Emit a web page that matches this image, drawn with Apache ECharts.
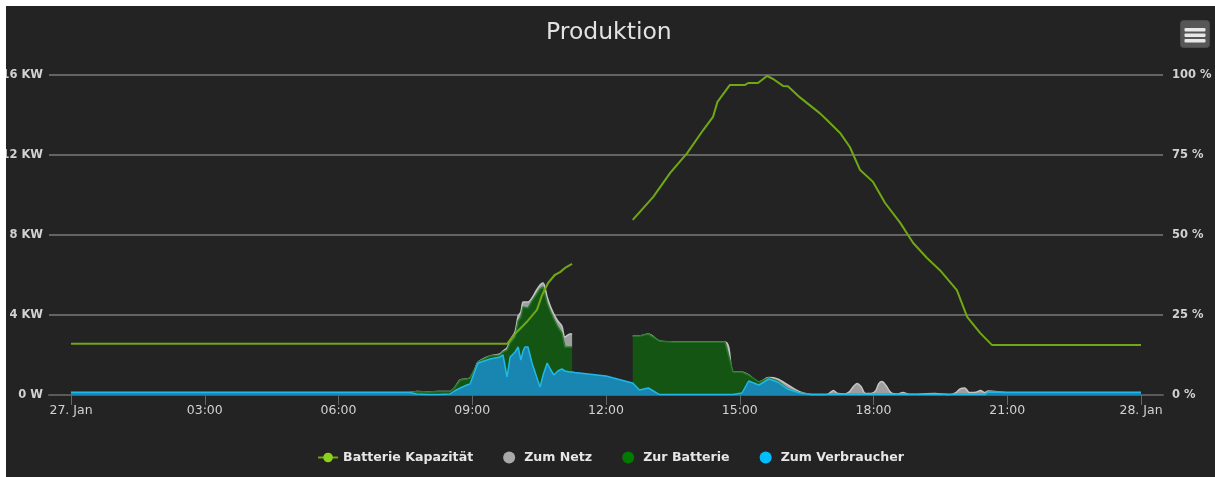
<!DOCTYPE html>
<html>
<head>
<meta charset="utf-8">
<script src="https://cdn.jsdelivr.net/npm/echarts@6/dist/echarts.min.js"></script>
<style>
  html, body { margin: 0; padding: 0; background: #ffffff; width: 1215px; height: 477px; overflow: hidden; }
  #chart { position: absolute; left: 6px; top: 6px; width: 1209px; height: 471px; background: #232323; }
</style>
</head>
<body>
<div id="chart"></div>
<script>
// ---- Data (time in hours of 27. Jan) ----
var hours = [0, 1, 2, 3, 4, 5, 6, 7, 7.6, 7.75, 8.0, 8.25, 8.5, 8.6, 8.73, 8.88, 8.95, 9.06, 9.13, 9.4,
  9.62, 9.69, 9.78, 9.85, 9.96, 10.03, 10.09, 10.14, 10.18, 10.25, 10.34, 10.43, 10.52, 10.59, 10.68, 10.75, 10.83, 10.92, 11.01, 11.08,
  11.19, 11.24, 11.3, 12.0, 12.55, 12.6, 12.75, 12.95, 13.2, 13.5, 14.67, 14.85, 15.05, 15.2, 15.43, 15.65, 15.85, 16.07, 16.35, 16.6,
  16.9, 17.0, 17.1, 17.2, 17.35, 17.45, 17.55, 17.63, 17.72, 17.82, 17.95, 18.05, 18.12, 18.19, 18.28, 18.4, 18.55, 18.66, 18.8, 19.38,
  19.7, 19.85, 19.95, 20.05, 20.15, 20.3, 20.4, 20.5, 20.57, 21, 22, 23, 24];

// kW
var zumVerbraucher = [0.12, 0.12, 0.12, 0.12, 0.12, 0.12, 0.12, 0.12, 0.12, 0.05, 0.03, 0.03, 0.05, 0.2, 0.35, 0.5, 0.55, 1.2, 1.6, 1.8,
  1.9, 2.0, 0.9, 1.9, 2.15, 2.4, 1.75, 2.2, 2.4, 2.4, 1.6, 1.0, 0.4, 1.0, 1.6, 1.3, 1.0, 1.2, 1.3, 1.2,
  1.15, 1.15, 1.13, 0.95, 0.63, 0.6, 0.25, 0.35, 0.02, 0.02, 0.02, 0.02, 0.1, 0.7, 0.5, 0.8, 0.65, 0.3, 0.1, 0.03,
  0.02, 0.02, 0.02, 0.02, 0.02, 0.02, 0.02, 0.02, 0.02, 0.02, 0.02, 0.02, 0.02, 0.02, 0.02, 0.02, 0.02, 0.02, 0.02, 0.02,
  0.02, 0.02, 0.02, 0.02, 0.02, 0.02, 0.02, 0.02, 0.15, 0.12, 0.12, 0.12, 0.12];

var zurBatterie = [0, 0, 0, 0, 0, 0, 0, 0, 0, 0.12, 0.12, 0.15, 0.12, 0.15, 0.4, 0.3, 0.3, 0.1, 0.05, 0.15,
  0.1, 0.15, 1.35, 0.7, 0.75, 1.3, 2.15, 2.2, 2.0, 1.95, 3.1, 4.0, 4.9, 4.4, 3.0, 2.9, 2.8, 2.2, 1.8, 1.2,
  1.25, 1.25, null, null, null, 2.35, 2.7, 2.7, 2.68, 2.63, 2.63, 1.13, 1.05, 0.3, 0.15, 0.05, 0.05, 0.02, 0, 0,
  0, 0, 0, 0, 0, 0, 0, 0, 0, 0, 0, 0, 0, 0, 0, 0, 0, 0, 0, 0,
  0, 0, 0, 0, 0, 0, 0, 0, 0, 0, 0, 0, 0];

var zumNetz = [0, 0, 0, 0, 0, 0, 0, 0, 0, 0, 0, 0, 0, 0, 0, 0, 0, 0, 0, 0,
  0.05, 0.05, 0.1, 0.15, 0.25, 0.25, 0.25, 0.25, 0.25, 0.3, 0.15, 0.2, 0.2, 0.2, 0.3, 0.25, 0.25, 0.3, 0.35, 0.5,
  0.65, 0.65, null, null, null, 0, 0, 0, 0, 0, 0, 0, 0, 0, 0, 0.02, 0.1, 0.2, 0.05, 0,
  0, 0.05, 0.2, 0.05, 0.03, 0.12, 0.4, 0.55, 0.4, 0.05, 0.05, 0.2, 0.55, 0.65, 0.45, 0.08, 0.03, 0.1, 0.02, 0.05,
  0, 0.1, 0.3, 0.33, 0.1, 0.12, 0.2, 0.1, 0.05, 0, 0, 0, 0];

// battery state of charge (%)
var batHours = [0, 9.78, 9.85, 10.0, 10.22, 10.45, 10.56, 10.7, 10.85, 10.97, 11.08, 11.24, 11.3,
  12.6, 13.06, 13.44, 13.82, 14.18, 14.4, 14.5, 14.78, 15.12, 15.19, 15.41, 15.61, 15.75, 15.97, 16.08, 16.35,
  16.8, 16.95, 17.25, 17.47, 17.7, 17.99, 18.26, 18.6, 18.89, 19.2, 19.49, 19.87, 20.1, 20.39, 20.66, 24];
var batPercent = [16, 16, 17.2, 19.7, 22.8, 26.6, 31, 35, 37.5, 38.4, 39.7, 41, null,
  54.7, 61.9, 69.4, 75.6, 82.8, 86.9, 91.6, 96.9, 96.9, 97.5, 97.5, 99.7, 98.75, 96.6, 96.5, 93,
  88, 86, 81.9, 77.5, 70.3, 66.6, 60, 53.8, 47.5, 42.8, 39, 32.8, 24.4, 19.4, 15.6, 15.6];

// axis ticks
var kwTicks = [0, 4, 8, 12, 16];
var pctTicks = [0, 25, 50, 75, 100];
var timeTicks = [0, 3, 6, 9, 12, 15, 18, 21, 24];
var timeLabels = ['27. Jan', '03:00', '06:00', '09:00', '12:00', '15:00', '18:00', '21:00', '28. Jan'];

var DAY0 = Date.UTC(2020, 0, 27);
var HOUR = 3600000;
function pairs(xs, ys) { return xs.map(function (x, i) { return [DAY0 + x * HOUR, ys[i]]; }); }

var chart = echarts.init(document.getElementById('chart'), null, { renderer: 'canvas' });
var pad = 22 / (1070 / 24);
var labelColor = '#d2d2d2';
var font = 'DejaVu Sans, sans-serif';

chart.setOption({
  backgroundColor: '#232323',
  animation: false,
  useUTC: true,
  textStyle: { fontFamily: font },
  title: {
    text: 'Produktion', left: 535, top: 10,
    textStyle: { color: '#e2e2e2', fontSize: 23.5, fontWeight: 'normal', fontFamily: font }
  },
  legend: {
    bottom: 8, left: 'center',
    itemWidth: 20, itemHeight: 12, itemGap: 30,
    textStyle: { color: '#e6e6e6', fontSize: 12.6, fontWeight: 'bold', fontFamily: font },
    data: [
      { name: 'Batterie Kapazität' },
      { name: 'Zum Netz', icon: 'circle' },
      { name: 'Zur Batterie', icon: 'circle' },
      { name: 'Zum Verbraucher', icon: 'circle' }
    ]
  },
  grid: [
    { left: 43, right: 52, top: 69, bottom: 82, containLabel: false, outerBoundsMode: 'none' },
    { left: 65, right: 74, top: 69, bottom: 82, containLabel: false, outerBoundsMode: 'none' }
  ],
  xAxis: [
    { type: 'time', gridIndex: 0, min: DAY0 - pad * HOUR, max: DAY0 + (24 + pad) * HOUR,
      axisLine: { show: true, lineStyle: { color: '#5a5a5a', width: 2 } },
      axisTick: { show: false }, axisLabel: { show: false }, splitLine: { show: false } },
    { type: 'value', gridIndex: 1, min: timeTicks[0], max: timeTicks[timeTicks.length - 1], interval: 3,
      axisLine: { show: false },
      axisTick: { show: true, length: 10, lineStyle: { color: '#666', width: 1 } },
      axisLabel: { color: labelColor, fontSize: 12.5, margin: 9, fontFamily: font,
        formatter: function (v) { var i = timeTicks.indexOf(v); return i >= 0 ? timeLabels[i] : ''; } },
      splitLine: { show: false } }
  ],
  yAxis: [
    { type: 'value', gridIndex: 0, position: 'left', min: kwTicks[0], max: kwTicks[kwTicks.length - 1], interval: 4,
      axisLine: { show: false }, axisTick: { show: false },
      axisLabel: { color: labelColor, fontSize: 11.5, fontWeight: 'bold', margin: 6, fontFamily: font,
        formatter: function (v) { return v === 0 ? '0 W' : v + ' KW'; } },
      splitLine: { show: true, lineStyle: { color: '#646464', width: 2 } } },
    { type: 'value', gridIndex: 0, position: 'right', min: pctTicks[0], max: pctTicks[pctTicks.length - 1], interval: 25,
      axisLine: { show: false }, axisTick: { show: false },
      axisLabel: { color: labelColor, fontSize: 11.5, fontWeight: 'bold', margin: 9, fontFamily: font,
        formatter: function (v) { return v + ' %'; } },
      splitLine: { show: false } },
    { type: 'value', gridIndex: 1, min: 0, max: 16, show: false }
  ],
  graphic: [
    { type: 'group', left: 1174, top: 14, children: [
      { type: 'rect', shape: { x: 0, y: 0, width: 29, height: 27, r: 3 }, style: { fill: '#575757', stroke: '#4a4a4a' } },
      { type: 'rect', shape: { x: 4, y: 7.5, width: 21, height: 3.5, r: 1 }, style: { fill: '#e8e8e8' } },
      { type: 'rect', shape: { x: 4, y: 13, width: 21, height: 3.5, r: 1 }, style: { fill: '#e8e8e8' } },
      { type: 'rect', shape: { x: 4, y: 18.5, width: 21, height: 3.5, r: 1 }, style: { fill: '#e8e8e8' } }
    ] }
  ],
  series: [
    { name: 'Zum Verbraucher', type: 'line', stack: 'p', xAxisIndex: 0, yAxisIndex: 0, z: 4,
      showSymbol: false, symbol: 'circle',
      itemStyle: { color: '#00bfff' },
      lineStyle: { color: '#20b8e6', width: 1.5 },
      areaStyle: { color: '#1886b0', opacity: 1 },
      data: pairs(hours, zumVerbraucher) },
    { name: 'Zur Batterie', type: 'line', stack: 'p', xAxisIndex: 0, yAxisIndex: 0, z: 3,
      showSymbol: false, symbol: 'circle',
      itemStyle: { color: '#007a00' },
      lineStyle: { color: '#2c7a2c', width: 1.5 },
      areaStyle: { color: '#145514', opacity: 1 },
      data: pairs(hours, zurBatterie) },
    { name: 'Zum Netz', type: 'line', stack: 'p', xAxisIndex: 0, yAxisIndex: 0, z: 2,
      showSymbol: false, symbol: 'circle', smooth: 0.3,
      itemStyle: { color: '#a9a9a9' },
      lineStyle: { color: '#c4c4c4', width: 1.5 },
      areaStyle: { color: '#9e9e9e', opacity: 1 },
      data: pairs(hours, zumNetz) },
    { name: 'Batterie Kapazität', type: 'line', xAxisIndex: 0, yAxisIndex: 1, z: 5,
      showSymbol: false, symbol: 'circle', symbolSize: 8,
      itemStyle: { color: '#8cd11a' },
      lineStyle: { color: '#6fa814', width: 2 },
      data: pairs(batHours, batPercent) }
  ]
});
</script>
</body>
</html>
